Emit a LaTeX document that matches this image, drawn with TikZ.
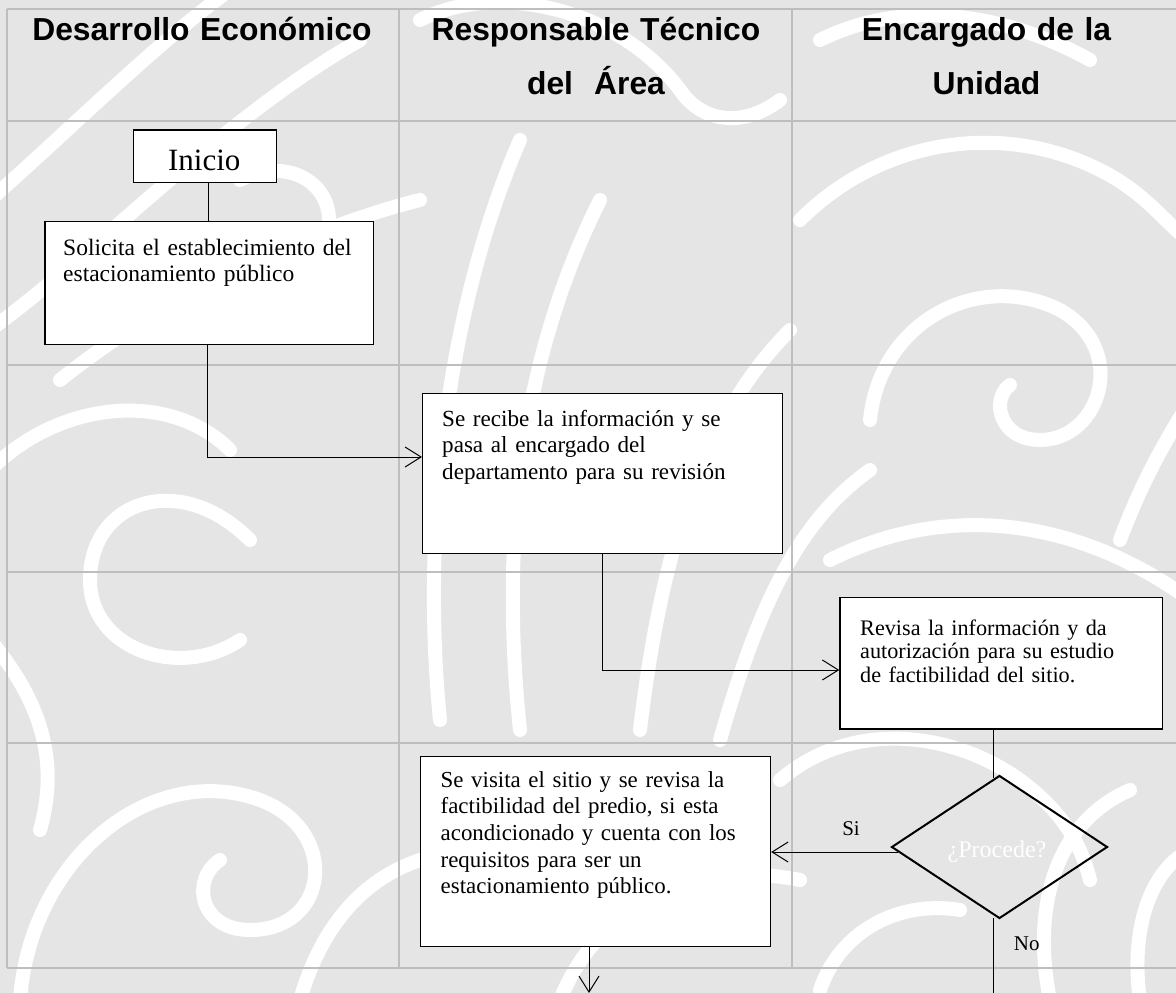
\documentclass[tikz,border=0pt]{standalone}
\usepackage{fontspec}
\setmainfont{Liberation Serif}
\newfontfamily\hdfont{Liberation Sans}
\usetikzlibrary{arrows.meta,calc,shapes.geometric}
\definecolor{wmgray}{RGB}{229,229,229}
\definecolor{gridgray}{RGB}{190,190,190}
\begin{document}
\begin{tikzpicture}[x=1pt,y=-1pt,
  gridline/.style={draw=gridgray,line width=1.6pt},
  wm/.style={draw=white,line width=14pt,line cap=round},
  box/.style={draw=black,fill=white,line width=1.2pt,inner sep=0pt,anchor=north west},
  body/.style={font=\fontsize{23.1}{26.7}\selectfont,align=left,inner sep=0pt,anchor=base west,text width=340pt},
  head/.style={font=\hdfont\bfseries\fontsize{31.8}{54.3}\selectfont,align=center,inner sep=0pt,anchor=base,text width=380pt},
  flow/.style={draw=black,line width=1pt},
  arr/.style={flow,-{Straight Barb[length=16pt,width=20pt,line width=1pt]}},
  lbl/.style={font=\fontsize{21}{24}\selectfont,inner sep=0pt,anchor=base},
]
\useasboundingbox (0,0) rectangle (1176,993);
% ---------- watermark background ----------
\fill[wmgray] (0,0) rectangle (1176,993);
\begin{scope}
\clip (0,0) rectangle (1176,993);
\begin{scope}[wm]
\draw (-10,200) .. controls (80,120) and (160,40) .. (230,-10);
\draw (-10,330) .. controls (100,250) and (220,120) .. (360,40);
\draw (60,380) .. controls (160,300) and (300,230) .. (420,200);
\draw (240,180) .. controls (300,150) and (350,200) .. (320,250) .. controls (300,280) and (260,270) .. (255,240);
\draw (-10,470) .. controls (60,400) and (170,390) .. (230,450);
\draw (250,540) .. controls (180,470) and (90,500) .. (90,580) .. controls (90,650) and (180,680) .. (240,640);
\draw (-10,640) .. controls (40,700) and (60,760) .. (40,830);
\draw (20,1000) .. controls (30,860) and (150,760) .. (260,800) .. controls (340,830) and (330,930) .. (250,930) .. controls (200,930) and (190,880) .. (220,860);
\draw (300,1000) .. controls (320,930) and (360,880) .. (420,860);
\draw (440,720) .. controls (420,520) and (450,300) .. (520,140);
\draw (520,730) .. controls (500,540) and (520,360) .. (600,200);
\draw (640,730) .. controls (660,560) and (700,420) .. (790,330);
\draw (720,740) .. controls (760,600) and (800,520) .. (870,470);
\draw (420,20) .. controls (500,-20) and (620,10) .. (680,90) .. controls (700,120) and (740,130) .. (780,100);
\draw (820,40) .. controls (900,0) and (1000,10) .. (1090,60);
\draw (800,220) .. controls (880,140) and (1000,120) .. (1100,170) .. controls (1150,195) and (1170,230) .. (1190,240);
\draw (870,420) .. controls (880,320) and (980,270) .. (1060,310) .. controls (1130,350) and (1100,440) .. (1040,440) .. controls (1000,440) and (990,400) .. (1010,385);
\draw (1120,540) .. controls (1150,460) and (1180,420) .. (1190,400);
\draw (830,560) .. controls (950,500) and (1080,520) .. (1190,600);
\draw (560,1000) .. controls (600,900) and (700,860) .. (800,880);
\draw (820,990) .. controls (840,930) and (900,900) .. (960,910);
\draw (1050,1000) .. controls (1030,900) and (1060,820) .. (1130,790);
\draw (1140,1000) .. controls (1130,930) and (1150,870) .. (1190,850);
\draw (780,780) .. controls (850,720) and (950,730) .. (1020,780) .. controls (1060,810) and (1080,840) .. (1090,880);
\end{scope}
\end{scope}
% ---------- table grid ----------
\foreach \yy in {9,121,365,572,743,968} \draw[gridline] (7,\yy) -- (1176,\yy);
\foreach \xx in {7,399,792} \draw[gridline] (\xx,9) -- (\xx,968);
% ---------- headers ----------
\node[head] (h1) at (202,40) {Desarrollo Económico};
\node[head] (h2) at (596,40) {Responsable Técnico\\del\ \ Área};
\node[head] (h3) at (986.5,40) {Encargado de la\\Unidad};
% ---------- boxes ----------
\node[box,minimum width=143.3pt,minimum height=52.7pt] (inicio) at (132.7,129.3) {};
\node[font=\fontsize{31}{34}\selectfont,inner sep=0pt,anchor=base] (tinicio) at (204.3,170) {Inicio};
\node[box,minimum width=328.4pt,minimum height=123pt] (solicita) at (44.3,221) {};
\node[body,font=\fontsize{23.5}{26.7}\selectfont] (tsolicita) at (63,255) {Solicita el establecimiento del\\estacionamiento público};
\node[box,minimum width=360pt,minimum height=160pt] (recibe) at (422,393) {};
\node[body] (trecibe) at (442,426) {Se recibe la información y se\\pasa al encargado del\\departamento para su revisión};
\node[box,minimum width=322.4pt,minimum height=131.6pt] (revisa) at (839.3,596.7) {};
\node[body,font=\fontsize{22.2}{23.5}\selectfont] (trevisa) at (860,635) {Revisa la información y da\\autorización para su estudio\\de factibilidad del sitio.};
\node[draw=black,line width=2pt,shape=diamond,minimum width=216pt,minimum height=143pt,inner sep=0pt] (dia) at (999.5,847) {};
\node[font=\fontsize{24}{26}\selectfont,text=white,inner sep=0pt] (proc) at (997,852) {¿Procede?};
\node[box,minimum width=350pt,minimum height=190pt] (visita) at (420,756) {};
\node[body,font=\fontsize{22.9}{26.7}\selectfont] (tvisita) at (440.5,787) {Se visita el sitio y se revisa la\\factibilidad del predio, si esta\\acondicionado y cuenta con los\\requisitos para ser un\\estacionamiento público.};
% ---------- connectors ----------
\coordinate (c1) at (208.4,0);
\coordinate (j1) at (207,457);
\coordinate (j2) at (602,670);
\coordinate (c3) at (993,0);
\coordinate (j4) at (898,852);
\coordinate (noend) at (993,993);
\coordinate (vend) at (589,993);
\draw[flow] (inicio.south -| c1) -- (solicita.north -| c1);
\draw[arr] (solicita.south -| j1) |- (recibe.west |- j1);
\draw[arr] (recibe.south -| j2) |- (revisa.west |- j2);
\draw[flow] (revisa.south -| c3) -- ($(dia.north -| c3)+(0,3)$);
\draw[arr] (j4) -- (visita.east |- j4);
\draw[flow] ($(dia.south -| c3)+(0,-2)$) -- (noend);
\draw[arr] (visita.south -| vend) -- (vend);
\node[lbl] (si) at (851,835) {Si};
\node[lbl] (no) at (1026.7,950.5) {No};
\end{tikzpicture}
\end{document}
